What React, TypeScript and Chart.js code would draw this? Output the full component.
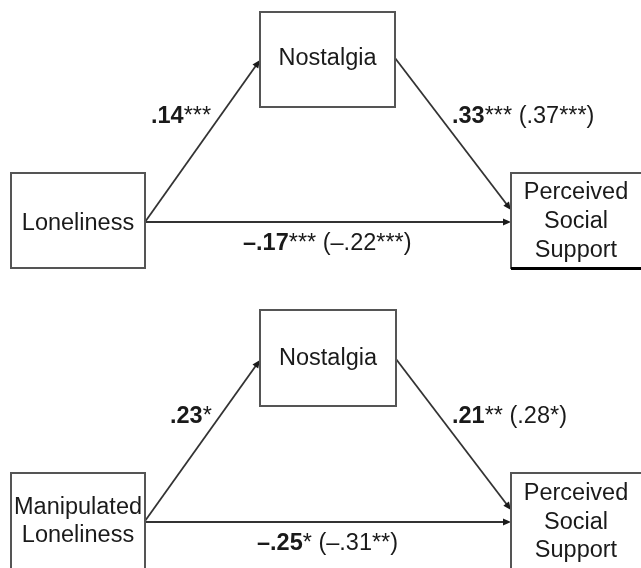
import React, { useEffect, useRef } from "react";
import { Chart, registerables } from "chart.js";

Chart.register(...registerables);

// ---- data ----
const predictorLabels = ["Loneliness", "Manipulated\nLoneliness"];
const mediatorLabels = ["Nostalgia", "Nostalgia"];
const outcomeLabels = ["Perceived\nSocial\nSupport", "Perceived\nSocial\nSupport"];
const aCoef = [".14", ".23"];
const aSig = ["***", "*"];
const bCoef = [".33", ".21"];
const bSig = ["***", "**"];
const bTotal = [" (.37***)", " (.28*)"];
const cCoef = ["\u2013.17", "\u2013.25"];
const cSig = ["***", "*"];
const cTotal = [" (\u2013.22***)", " (\u2013.31**)"];

// ---- layout (diagram geometry in scale units) ----
type Panel = {
  med: number[]; medText: number;
  pred: number[]; predText: number; predLH: number;
  out: number[]; outText: number; outLH: number;
  a: number[]; b: number[]; c: number[];
  aLab: number[]; bLab: number[]; cLab: number[];
  thickBottom: boolean;
};
const LAYOUT: Panel[] = [
  {
    med: [260, 12, 395, 107], medText: 65,
    pred: [11, 173, 145, 268], predText: 230, predLH: 28,
    out: [511, 173, 646, 268], outText: 199, outLH: 29,
    a: [145, 222, 260, 60], b: [395, 58, 511, 210], c: [145, 222, 511, 222],
    aLab: [151, 123], bLab: [452, 123], cLab: [243, 250],
    thickBottom: true,
  },
  {
    med: [260, 310, 396, 406], medText: 365,
    pred: [11, 473, 145, 580], predText: 514, predLH: 28,
    out: [511, 473, 646, 580], outText: 500, outLH: 28.5,
    a: [145, 521, 260, 360], b: [396, 359, 511, 510], c: [145, 522, 511, 522],
    aLab: [170, 423], bLab: [452, 423], cLab: [257, 550],
    thickBottom: false,
  },
];

const FONT = '"Liberation Sans", Arial, Helvetica, sans-serif';
const SIZE = 23.5;

const diagramPlugin = {
  id: "mediationDiagram",
  afterDraw(chart: any) {
    const ctx: CanvasRenderingContext2D = chart.ctx;
    const xs = chart.scales.x;
    const ys = chart.scales.y;
    const px = (v: number) => xs.getPixelForValue(v);
    const py = (v: number) => ys.getPixelForValue(v);

    const box = (r: number[]) => {
      ctx.save();
      ctx.strokeStyle = "#555555";
      ctx.lineWidth = 2;
      ctx.strokeRect(px(r[0]), py(r[1]), px(r[2]) - px(r[0]), py(r[3]) - py(r[1]));
      ctx.restore();
    };
    const centeredText = (txt: string, cx: number, baseY: number, lh: number) => {
      ctx.save();
      ctx.fillStyle = "#1a1a1a";
      ctx.font = `${SIZE}px ${FONT}`;
      ctx.textAlign = "center";
      ctx.textBaseline = "alphabetic";
      txt.split("\n").forEach((line, i) => ctx.fillText(line, px(cx), py(baseY + i * lh)));
      ctx.restore();
    };
    const arrow = (s: number[]) => {
      const x0 = px(s[0]), y0 = py(s[1]), x1 = px(s[2]), y1 = py(s[3]);
      const ang = Math.atan2(y1 - y0, x1 - x0);
      const hl = 8, hw = 3.5;
      ctx.save();
      ctx.strokeStyle = "#333333";
      ctx.fillStyle = "#1a1a1a";
      ctx.lineWidth = 1.8;
      ctx.beginPath();
      ctx.moveTo(x0, y0);
      ctx.lineTo(x1 - Math.cos(ang) * hl * 0.7, y1 - Math.sin(ang) * hl * 0.7);
      ctx.stroke();
      ctx.beginPath();
      ctx.moveTo(x1, y1);
      ctx.lineTo(x1 - Math.cos(ang) * hl + Math.sin(ang) * hw, y1 - Math.sin(ang) * hl - Math.cos(ang) * hw);
      ctx.lineTo(x1 - Math.cos(ang) * hl - Math.sin(ang) * hw, y1 - Math.sin(ang) * hl + Math.cos(ang) * hw);
      ctx.closePath();
      ctx.fill();
      ctx.restore();
    };
    const coefLabel = (pos: number[], bold: string, rest: string[]) => {
      ctx.save();
      ctx.fillStyle = "#1a1a1a";
      ctx.textAlign = "left";
      ctx.textBaseline = "alphabetic";
      let x = px(pos[0]);
      const y = py(pos[1]);
      ctx.font = `bold ${SIZE}px ${FONT}`;
      ctx.fillText(bold, x, y);
      x += ctx.measureText(bold).width;
      ctx.font = `${SIZE}px ${FONT}`;
      rest.forEach((seg) => {
        ctx.fillText(seg, x, y);
        x += ctx.measureText(seg).width;
      });
      ctx.restore();
    };

    LAYOUT.forEach((p, i) => {
      arrow(p.a);
      arrow(p.b);
      arrow(p.c);
      box(p.med);
      box(p.pred);
      box(p.out);
      if (p.thickBottom) {
        ctx.save();
        ctx.strokeStyle = "#000";
        ctx.lineWidth = 3;
        ctx.beginPath();
        ctx.moveTo(px(p.out[0]), py(p.out[3]) + 0.5);
        ctx.lineTo(px(p.out[2]), py(p.out[3]) + 0.5);
        ctx.stroke();
        ctx.restore();
      }
      centeredText(mediatorLabels[i], (p.med[0] + p.med[2]) / 2, p.medText, 0);
      centeredText(predictorLabels[i], (p.pred[0] + p.pred[2]) / 2, p.predText, p.predLH);
      centeredText(outcomeLabels[i], 576, p.outText, p.outLH);
      coefLabel(p.aLab, aCoef[i], [aSig[i]]);
      coefLabel(p.bLab, bCoef[i], [bSig[i], bTotal[i]]);
      coefLabel(p.cLab, cCoef[i], [cSig[i], cTotal[i]]);
    });
  },
};

export default function App() {
  const ref = useRef<HTMLCanvasElement | null>(null);
  useEffect(() => {
    if (!ref.current) return;
    const nodes = LAYOUT.flatMap((p) => [
      { x: (p.pred[0] + p.pred[2]) / 2, y: (p.pred[1] + p.pred[3]) / 2 },
      { x: (p.med[0] + p.med[2]) / 2, y: (p.med[1] + p.med[3]) / 2 },
      { x: (p.out[0] + p.out[2]) / 2, y: (p.out[1] + p.out[3]) / 2 },
    ]);
    const chart = new Chart(ref.current, {
      type: "scatter",
      data: { datasets: [{ data: nodes, pointRadius: 0, pointHoverRadius: 0 }] },
      options: {
        animation: false,
        responsive: false,
        events: [],
        layout: { padding: 0 },
        plugins: { legend: { display: false }, tooltip: { enabled: false } },
        scales: {
          x: { type: "linear", min: 0, max: 641, display: false },
          y: { type: "linear", min: 0, max: 568, reverse: true, display: false },
        },
      },
      plugins: [diagramPlugin],
    });
    return () => chart.destroy();
  }, []);
  return (
    <div style={{ position: "fixed", left: 0, top: 0, width: 641, height: 568, background: "#fff" }}>
      <canvas ref={ref} width={641} height={568} style={{ display: "block" }} />
    </div>
  );
}
